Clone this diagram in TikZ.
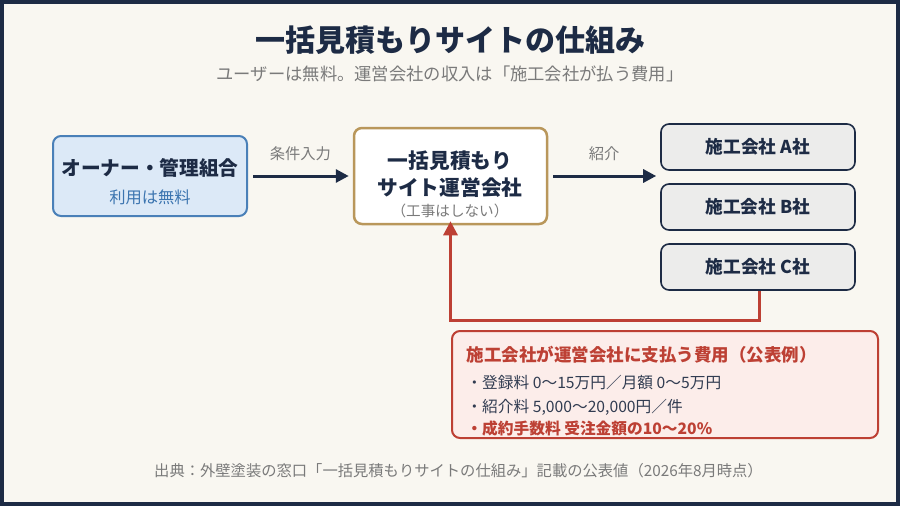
\documentclass[tikz,border=0pt]{standalone}
\usepackage{fontspec}
\setmainfont{Noto Sans CJK JP}
\usepackage{xcolor}
\usepackage{tikz}
\usetikzlibrary{shapes, arrows, positioning, calc, arrows.meta}

\definecolor{navy}{HTML}{1D2B45}
\definecolor{cream}{HTML}{F9F7F1}
\definecolor{txtgray}{HTML}{7A7A7A}
\definecolor{ownerfill}{HTML}{DCE9F7}
\definecolor{ownerline}{HTML}{4A80B8}
\definecolor{ownertxt}{HTML}{3C75B0}
\definecolor{siteline}{HTML}{B9975B}
\definecolor{firmfill}{HTML}{ECECEB}
\definecolor{feered}{HTML}{BD4034}
\definecolor{feefill}{HTML}{FCEDEA}

\tikzset{
    box/.style={draw, rounded corners=8pt, line width=2pt, align=center, inner sep=0pt},
    firm/.style={box, draw=navy, fill=firmfill, line width=1.6pt, minimum width=194pt, minimum height=46pt,
        font=\fontsize{17.7}{20}\selectfont\bfseries, text=navy},
    flow/.style={navy, line width=3pt, -{Triangle[length=13pt, width=13pt]}, shorten <=5pt, shorten >=4pt},
    lbl/.style={text=txtgray, font=\fontsize{15.3}{17}\selectfont},
    feeline/.style={anchor=west, text=navy!80!gray, font=\fontsize{15.7}{18}\selectfont}
}

\begin{document}
\begin{tikzpicture}[x=1pt, y=-1pt]
    % Frame and background
    \fill[navy] (0,0) rectangle (900,506);
    \fill[cream] (4,4) rectangle (896,502);
    \useasboundingbox (0,0) rectangle (900,506);

    % Title
    \node[text=navy, font=\fontsize{30}{34}\selectfont\bfseries] (title) at (450,40) {一括見積もりサイトの仕組み};
    \node[text=txtgray, font=\fontsize{17.3}{19}\selectfont] (subtitle) at (450,74) {ユーザーは無料。運営会社の収入は「施工会社が払う費用」};

    % Owner
    \node[box, draw=ownerline, fill=ownerfill, minimum width=194pt, minimum height=80pt] (owner) at (150,176) {};
    \node[text=navy, font=\fontsize{19.7}{22}\selectfont\bfseries] (ownername) at (150,168) {オーナー・管理組合};
    \node[text=ownertxt, font=\fontsize{16.3}{18}\selectfont] (ownernote) at (150,197) {利用は無料};

    % Site operator
    \node[box, draw=siteline, fill=white, line width=2.5pt, minimum width=193pt, minimum height=96pt] (site) at (450.5,176) {};
    \node[text=navy, font=\fontsize{20.7}{27}\selectfont\bfseries, align=center] (sitename) at (450,174) {一括見積もり\\サイト運営会社};
    \node[text=txtgray, font=\fontsize{14.6}{16}\selectfont] (sitenote) at (450,211) {（工事はしない）};

    % Contractors
    \foreach \n/\y in {A/147, B/207, C/267} {
        \node[firm] (firm\n) at (758,\y) {施工会社 \n 社};
    }

    % Flow arrows
    \draw[flow] (owner.east) -- (site.west) node[midway, lbl, above=10pt] (inputlbl) {条件入力};
    \draw[flow] (site.east) -- (site.east -| firmA.west) node[midway, lbl, above=10pt] (introlbl) {紹介};

    % Fee return path
    \coordinate (turn) at (759,320);
    \draw[feered, line width=3pt, -{Triangle[length=14pt, width=14pt]}, shorten >=-4pt]
        (firmC.south -| turn) -- (turn) -| (site.south);

    % Fee box
    \node[box, draw=feered, fill=feefill, minimum width=426pt, minimum height=107pt] (fees) at (665,384.5) {};
    \node[anchor=west, text=feered, font=\fontsize{17.5}{20}\selectfont\bfseries] (feetitle) at (463,355) {施工会社が運営会社に支払う費用（公表例）};
    \node[feeline] (fee1) at (463,383) {・登録料 0〜15万円／月額 0〜5万円};
    \node[feeline] (fee2) at (463,407) {・紹介料 5,000〜20,000円／件};
    \node[feeline, text=feered, font=\fontsize{15.7}{18}\selectfont\bfseries] (fee3) at (463,429) {・成約手数料 受注金額の10〜20\%};

    % Source
    \node[lbl] (source) at (458.5,471) {出典：外壁塗装の窓口「一括見積もりサイトの仕組み」記載の公表値（2026年8月時点）};
\end{tikzpicture}
\end{document}
